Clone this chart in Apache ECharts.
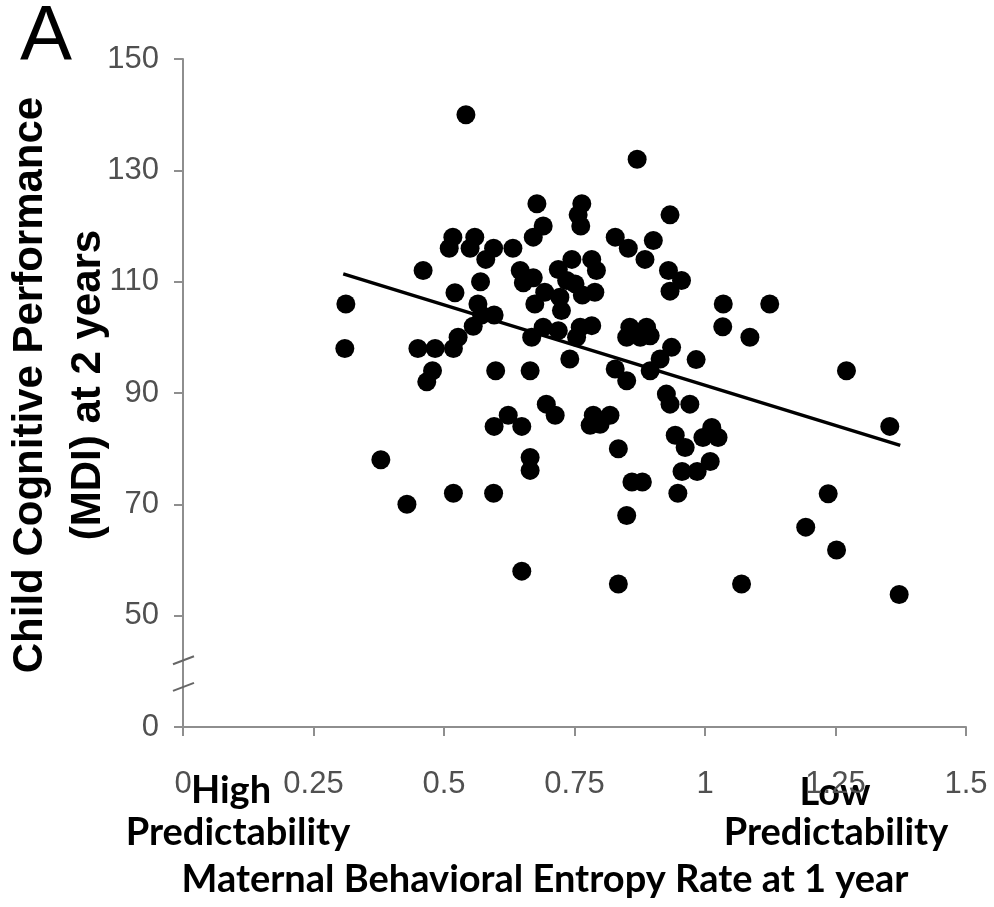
<!DOCTYPE html>
<html>
<head>
<meta charset="utf-8">
<title>Maternal entropy vs. child MDI</title>
<script src="https://cdn.jsdelivr.net/npm/echarts@6/dist/echarts.min.js"></script>
<style>
  html, body { margin: 0; padding: 0; background: #fff; }
  #chart { width: 994px; height: 907px; }
</style>
</head>
<body>
<div id="chart"></div>
<script>
// Maternal behavioral entropy rate at 1 year (x) and child MDI at 2 years (y)
const entropy = [
  0.312, 0.310, 0.379, 0.429, 0.460, 0.450, 0.483, 0.478, 0.467, 0.542,
  0.517, 0.559, 0.510, 0.550, 0.595, 0.580, 0.632, 0.521, 0.570, 0.565,
  0.572, 0.596, 0.556, 0.527, 0.518, 0.599, 0.623, 0.596, 0.649, 0.518,
  0.595, 0.649, 0.870, 0.678, 0.764, 0.757, 0.762, 0.690, 0.671, 0.933,
  0.828, 0.853, 0.901, 0.885, 0.646, 0.671, 0.652, 0.719, 0.745, 0.783,
  0.792, 0.735, 0.751, 0.693, 0.674, 0.789, 0.722, 0.725, 0.690, 0.668,
  0.719, 0.761, 0.783, 0.754, 0.741, 0.665, 0.856, 0.888, 0.850, 0.876,
  0.895, 0.828, 0.850, 0.930, 0.955, 0.933, 0.936, 0.914, 0.895, 0.983,
  0.696, 0.713, 0.786, 0.818, 0.780, 0.799, 0.926, 0.933, 0.971, 0.834,
  0.665, 0.665, 0.860, 0.880, 0.948, 0.943, 0.962, 0.956, 0.985, 1.010,
  0.996, 1.013, 1.025, 0.850, 0.834, 1.070, 1.236, 1.193, 1.252, 1.372,
  1.035, 1.124, 1.034, 1.086, 1.271, 1.354, 0.765
];
const mdi = [
  106, 98, 78, 70, 112, 98, 98, 94, 92, 140,
  118, 118, 116, 116, 116, 114, 116, 108, 110, 106,
  104, 104, 102, 100, 98, 94, 86, 84, 84, 72,
  72, 58, 132, 124, 124, 122, 120, 120, 118, 122,
  118, 116, 117.4, 114, 112, 110.7, 109.8, 112.2, 114, 114,
  112, 110.2, 109.6, 108.1, 106, 108.1, 107.2, 104.8, 101.8, 100,
  101.2, 101.8, 102.1, 100, 96.1, 94, 101.8, 101.8, 100, 100,
  100.3, 94.3, 92.2, 112, 110.2, 108.3, 98.2, 96.1, 94, 96,
  88, 86, 86, 86, 84.2, 84.4, 89.8, 88, 88, 80,
  78.4, 76.1, 74, 74, 72, 82.4, 80.2, 75.9, 75.9, 77.7,
  82, 83.8, 82, 68, 55.7, 55.7, 71.9, 65.9, 61.8, 53.8,
  106, 106, 101.9, 100, 94, 84, 107.6
];

// Fitted trend line end points
const trendX = [0.307, 1.374];
const trendY = [111.4, 80.6];

// Axis ticks; the y axis is broken, so its lowest tick stands for 0
const xTickValues = [0, 0.25, 0.5, 0.75, 1, 1.25, 1.5];
const xTickLabels = ['0', '0.25', '0.5', '0.75', '1', '1.25', '1.5'];
const yTickValues = [30, 50, 70, 90, 110, 130, 150];
const yTickLabels = ['0', '50', '70', '90', '110', '130', '150'];
const yBreakValues = [42, 37.2];

const points = entropy.map((x, i) => [x, mdi[i]]);
const trend = trendX.map((x, i) => [x, trendY[i]]);

const axisGrey = '#8e8e8e';
const labelGrey = '#505050';
const tickFont = { fontFamily: 'Liberation Sans', fontSize: 31, color: labelGrey };

const chart = echarts.init(document.getElementById('chart'), null, { renderer: 'canvas' });

chart.setOption({
  animation: false,
  backgroundColor: '#ffffff',
  grid: { left: 183, right: 28, top: 59, bottom: 180, outerBoundsMode: 'none' },
  xAxis: {
    type: 'value',
    min: xTickValues[0],
    max: xTickValues[xTickValues.length - 1],
    interval: 0.25,
    axisLine: { show: true, onZero: false, lineStyle: { color: axisGrey, width: 2 } },
    axisTick: { show: true, inside: false, length: 9, lineStyle: { color: axisGrey, width: 2 } },
    splitLine: { show: false },
    axisLabel: Object.assign({
      margin: 42,
      showMinLabel: true,
      showMaxLabel: true,
      formatter: v => {
        const i = xTickValues.findIndex(t => Math.abs(t - v) < 1e-9);
        return i >= 0 ? xTickLabels[i] : '';
      }
    }, tickFont)
  },
  yAxis: {
    type: 'value',
    min: yTickValues[0],
    max: yTickValues[yTickValues.length - 1],
    interval: 20,
    axisLine: { show: true, onZero: false, lineStyle: { color: axisGrey, width: 2 } },
    axisTick: { show: true, inside: false, length: 9, lineStyle: { color: axisGrey, width: 2 } },
    splitLine: { show: false },
    axisLabel: Object.assign({
      margin: 24,
      showMinLabel: true,
      showMaxLabel: true,
      formatter: v => {
        const i = yTickValues.findIndex(t => Math.abs(t - v) < 1e-9);
        return i >= 0 ? yTickLabels[i] : '';
      }
    }, tickFont)
  },
  series: [
    {
      type: 'scatter',
      data: points,
      symbol: 'circle',
      symbolSize: 19,
      itemStyle: { color: '#000000', opacity: 1 },
      z: 2
    },
    {
      type: 'line',
      data: trend,
      symbol: 'none',
      lineStyle: { color: '#000000', width: 3.5 },
      z: 3
    }
  ]
});

// Break marks across the y axis plus the panel letter and titles
const breakMarks = yBreakValues.map(v => {
  const p = chart.convertToPixel({ gridIndex: 0 }, [0, v]);
  return {
    type: 'line',
    shape: { x1: p[0] - 10, y1: p[1] + 4, x2: p[0] + 11, y2: p[1] - 4 },
    style: { stroke: '#666666', lineWidth: 2 },
    z: 10
  };
});

const boldLabel = (text, x, y) => ({
  type: 'text',
  x: x, y: y,
  style: {
    text: text,
    fontFamily: 'Lato',
    fontWeight: 'bold',
    fontSize: 38,
    fill: '#000000',
    align: 'center',
    verticalAlign: 'middle'
  }
});

chart.setOption({
  graphic: breakMarks.concat([
    {
      type: 'text',
      x: 20, y: 38,
      style: {
        text: 'A',
        fontFamily: 'Liberation Sans',
        fontSize: 78,
        fill: '#000000',
        align: 'left',
        verticalAlign: 'middle'
      }
    },
    {
      type: 'text',
      x: 59, y: 385,
      rotation: Math.PI / 2,
      style: {
        text: 'Child Cognitive Performance\n(MDI) at 2 years',
        fontFamily: 'Liberation Sans',
        fontWeight: 'bold',
        fontSize: 42,
        lineHeight: 58,
        fill: '#000000',
        align: 'center',
        verticalAlign: 'middle'
      }
    },
    boldLabel('High', 231, 791),
    boldLabel('Predictability', 238, 833),
    boldLabel('Low', 835, 793),
    boldLabel('Predictability', 836, 833),
    boldLabel('Maternal Behavioral Entropy Rate at 1 year', 545, 880)
  ])
});
</script>
</body>
</html>
